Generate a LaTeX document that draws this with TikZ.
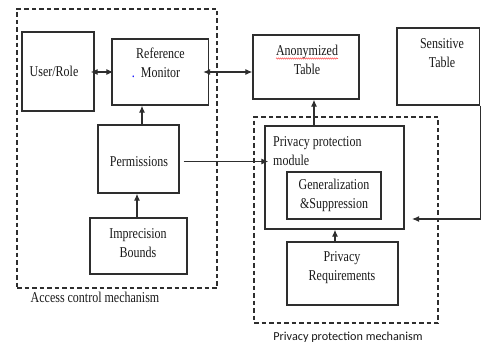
\documentclass[tikz,border=0pt]{standalone}
\usepackage{fontspec}
\setmainfont{Liberation Serif}
\newfontfamily\tfont[FakeStretch=0.8]{Liberation Serif}
\newfontfamily\lfont{Carlito}
\usetikzlibrary{arrows.meta,decorations.pathmorphing}
\definecolor{lc}{HTML}{2E2E2E}
\begin{document}
\begin{tikzpicture}[x=1pt,y=-1pt,
  box/.style={draw=lc, line width=1.4pt, rectangle, inner sep=0pt},
  grp/.style={draw=lc, line width=1.5pt, dash pattern=on 4.5pt off 3pt, rectangle, inner sep=0pt},
  txt/.style={font=\tfont\fontsize{15}{19}\selectfont, align=center, inner sep=0pt, text=black!90},
  arr/.style={draw=lc, line width=1.1pt, -{Latex[length=7pt,width=6pt]}},
  darr/.style={draw=lc, line width=1.1pt, {Latex[length=7pt,width=6pt]}-{Latex[length=7pt,width=6pt]}}]
\useasboundingbox (0,0) rectangle (481,345);
% group boxes
\node[grp, minimum width=200pt, minimum height=279pt] (acm) at (117,148.5) {};
\node[grp, minimum width=184pt, minimum height=206pt] (ppm) at (346,220) {};
% boxes
\node[box, minimum width=72pt, minimum height=79pt] (user) at (58,71.5) {};
\node[box, minimum width=96.5pt, minimum height=66pt] (refmon) at (160.25,72) {};
\node[box, minimum width=106pt, minimum height=64pt] (anon) at (306,67) {};
\node[box, minimum width=82.5pt, minimum height=77pt] (sens) at (438.25,66.5) {};
\node[box, minimum width=81pt, minimum height=68pt] (perm) at (138.5,159) {};
\node[box, minimum width=97pt, minimum height=56pt] (impr) at (138.5,246) {};
\node[box, minimum width=139pt, minimum height=103pt] (module) at (334.5,177.5) {};
\node[box, minimum width=94pt, minimum height=47pt] (gen) at (334,195.5) {};
\node[box, minimum width=111pt, minimum height=63pt] (req) at (342.5,273.5) {};
% texts
\node[txt] (usert) at (54,71) {User/Role};
\node[txt] (refmont) at (160.5,63) {Reference\\{\llap{\color{blue}.\hspace{6pt}}Monitor}};
\node[txt] (anont) at (307,59.5) {Anonymized\\Table};
\node[txt] (senst) at (442,53) {Sensitive\\Table};
\node[txt] (permt) at (139,162) {Permissions};
\node[txt] (imprt) at (138,243.5) {Imprecision\\Bounds};
\node[txt, align=left, anchor=west] (modt) at (273,151) {Privacy protection\\module};
\node[txt] (gent) at (334,195) {Generalization\\\&Suppression};
\node[txt] (reqt) at (342,267.5) {Privacy\\Requirements};
\node[txt] (acmlab) at (95,297) {Access control mechanism};
\node[font=\lfont\fontsize{12.2}{14}\selectfont, inner sep=0pt, text=black!90] (ppmlab) at (348,337) {Privacy protection mechanism};
% spell-check squiggle
\draw[red!80, line width=0.5pt, decorate, decoration={snake, amplitude=0.6pt, segment length=2pt}] (276,58.5) -- (338,58.5);
% connectors
\draw[darr, shorten <=-4pt, shorten >=-2pt] (user.east |- 0,72) -- (refmon.west);
\draw[darr, shorten <=-6pt] (refmon.east) -- (refmon.east -| anon.west);
\draw[arr] ([xshift=3.5pt]perm.north) -- ([xshift=3.5pt]perm.north |- refmon.south);
\draw[arr] ([xshift=-1.5pt]impr.north) -- ([xshift=-1.5pt]impr.north |- perm.south);
\draw[arr] ([shift={(4,2.5)}]perm.east) -- ([shift={(4,2.5)}]perm.east -| module.west);
\draw[arr] ([xshift=-20.5pt]module.north) -- ([xshift=-20.5pt]module.north |- anon.south);
\draw[arr] ([xshift=-7.5pt]req.north) -- ([xshift=-7.5pt]req.north |- module.south);
\coordinate (senstip) at (412,219);
\draw[arr] (sens.south east) -- (sens.south east |- senstip) -- (senstip);
\end{tikzpicture}
\end{document}
